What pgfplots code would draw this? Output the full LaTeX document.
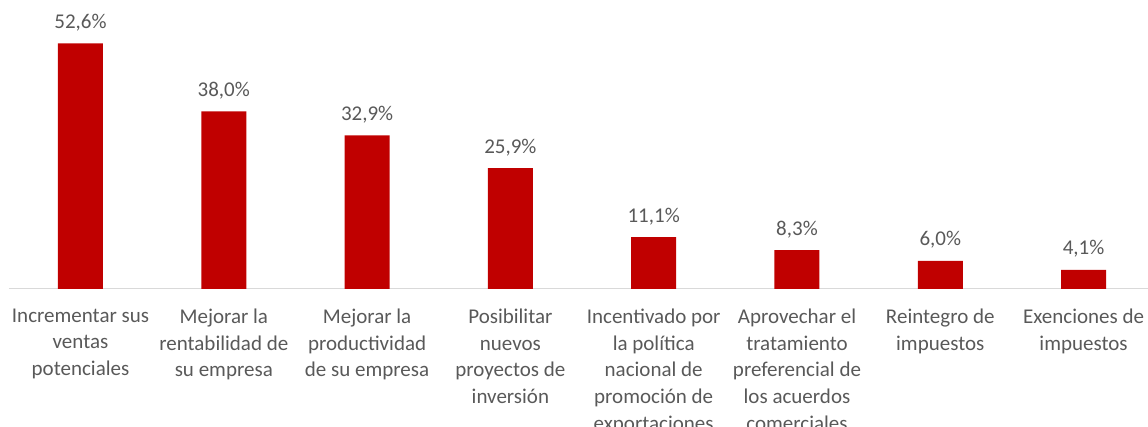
\documentclass[border=0pt]{standalone}
\usepackage{fontspec}
\setmainfont{Carlito}
\usepackage{pgfplots}
\pgfplotsset{compat=1.18}
\definecolor{barred}{HTML}{C00000}
\definecolor{txtgray}{HTML}{595959}
\definecolor{axgray}{HTML}{D9D9D9}
\begin{document}
\begin{tikzpicture}
\begin{axis}[
  scale only axis,
  width=1146.4pt, height=289pt,
  xmin=-0.5, xmax=7.5,
  ymin=0, ymax=61.87,
  ybar, bar width=45pt,
  axis y line=none,
  axis x line*=bottom,
  x axis line style={draw=axgray, line width=1pt},
  xtick=data,
  xtick style={draw=none},
  xticklabels={{Incrementar sus\\ventas\\potenciales},
               {Mejorar la\\rentabilidad de\\su empresa},
               {Mejorar la\\productividad\\de su empresa},
               {Posibilitar\\nuevos\\proyectos de\\inversión},
               {Incentivado por\\la política\\nacional de\\promoción de\\exportaciones},
               {Aprovechar el\\tratamiento\\preferencial de\\los acuerdos\\comerciales},
               {Reintegro de\\impuestos},
               {Exenciones de\\impuestos}},
  xticklabel style={align=center, text=txtgray, font=\fontsize{21}{26.7}\selectfont, anchor=north, yshift=-12pt},
  /pgf/number format/assume math mode=true,
  nodes near coords={\pgfmathprintnumber[fixed,fixed zerofill,precision=1,use comma,assume math mode=true]{\pgfplotspointmeta}\%},
  every node near coord/.append style={text=txtgray, font=\fontsize{21}{26.7}\selectfont, anchor=base, yshift=15pt},
  clip=false,
]
\addplot[fill=barred, draw=none] coordinates {
  (0,52.6) (1,38.0) (2,32.9) (3,25.9) (4,11.1) (5,8.3) (6,6.0) (7,4.1)
};
\end{axis}
\pgfresetboundingbox
\path ([xshift=-8.85pt,yshift=-138pt]current axis.south west) rectangle ([xshift=1139.15pt,yshift=289pt]current axis.south west);
\end{tikzpicture}
\end{document}
